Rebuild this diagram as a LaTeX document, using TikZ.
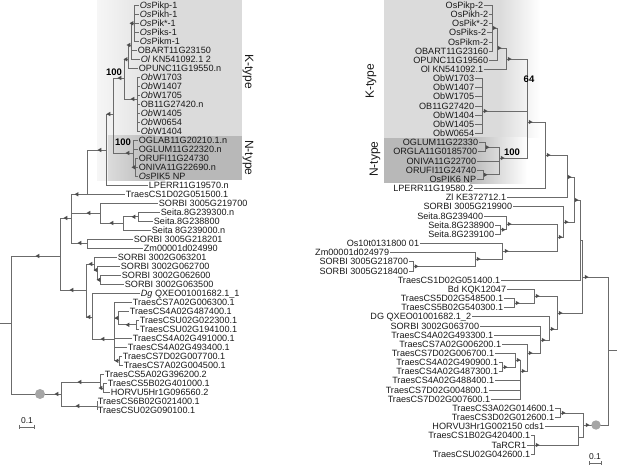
\documentclass[tikz,border=0pt]{standalone}
\usepackage{fontspec}
\setmainfont{Liberation Sans}
\usetikzlibrary{shapes.geometric}
\definecolor{boxK}{gray}{0.86}
\definecolor{boxN}{gray}{0.72}
\definecolor{brc}{gray}{0.42}
\definecolor{txt}{gray}{0.1}
\definecolor{trc}{gray}{0.3}
\newcommand\lblf{\fontsize{9.1}{10}\selectfont}
\begin{document}
\begin{tikzpicture}[x=1pt,y=-1pt,
  br/.style={draw=brc, line width=0.8pt},
  lf/.style={anchor=west, inner sep=0.7pt, text height=6.4pt, text depth=0.2pt, font=\lblf, text=txt},
  rf/.style={anchor=east, inner sep=0.7pt, text height=6.4pt, text depth=0.2pt, font=\lblf, text=txt},
  ltri/.style={regular polygon, regular polygon sides=3, shape border rotate=90, fill=trc, inner sep=0pt, minimum size=5pt},
  rtri/.style={regular polygon, regular polygon sides=3, shape border rotate=270, fill=trc, inner sep=0pt, minimum size=5pt},
  boot/.style={font=\fontsize{9.5}{10}\selectfont\bfseries, text=black, inner sep=0pt},
  ttl/.style={font=\fontsize{12}{14}\selectfont, text=txt, inner sep=0pt}
]
\useasboundingbox (0,0) rectangle (617,465);
% ---------- background boxes ----------
\shade[left color=boxK!25, right color=boxK] (97,0) rectangle (165,180);
\fill[boxK] (165,0) rectangle (242,180);
\shade[left color=boxK, right color=boxN] (108,136) rectangle (155,180);
\fill[boxN] (155,136) rectangle (242,180);
\fill[boxK] (384,0) rectangle (500,138);
\shade[left color=boxK, right color=white] (500,0) rectangle (540,138);
\fill[boxN] (384,138) rectangle (470,183);
\shade[left color=boxN, right color=white] (470,138) rectangle (527,183);
\node[ttl, rotate=-90] (kl) at (248,72) {K-type};
\node[ttl, rotate=-90] (nl) at (248,158) {N-type};
\node[ttl, rotate=90] (kr) at (371,81) {K-type};
\node[ttl, rotate=90] (nr) at (375,159) {N-type};
% ---------- left leaves ----------
\node[lf] (a0) at (139,5.3) {\textit{Os}Pikp-1};
\node[lf] (a1) at (139,14.3) {\textit{Os}Pikh-1};
\node[lf] (a2) at (139,23.3) {\textit{Os}Pik*-1};
\node[lf] (a3) at (139,32.3) {\textit{Os}Piks-1};
\node[lf] (a4) at (139,41.3) {\textit{Os}Pikm-1};
\node[lf] (a5) at (137,50.3) {OBART11G23150};
\node[lf] (a6) at (140,59.3) {\textit{Ol} KN541092.1 2};
\node[lf] (a7) at (138,68.3) {OPUNC11G19550.n};
\node[lf] (a8) at (140,77.3) {\textit{Ob}W1703};
\node[lf] (a9) at (140,86.3) {\textit{Ob}W1407};
\node[lf] (a10) at (140,95.3) {\textit{Ob}W1705};
\node[lf] (a11) at (140,104.3) {OB11G27420.n};
\node[lf] (a12) at (140,113.3) {\textit{Ob}W1405};
\node[lf] (a13) at (140,122.3) {\textit{Ob}W0654};
\node[lf] (a14) at (140,131.3) {\textit{Ob}W1404};
\node[lf] (a15) at (138,140.3) {OGLAB11G20210.1.n};
\node[lf] (a16) at (138,149.3) {OGLUM11G22320.n};
\node[lf] (a17) at (138,158.3) {ORUFI11G24730};
\node[lf] (a18) at (138,167.3) {ONIVA11G22690.n};
\node[lf] (a19) at (138,176.3) {\textit{Os}PIK5 NP};
\node[lf] (a20) at (148,185.3) {LPERR11G19570.n};
\node[lf] (a21) at (125,194.3) {TraesCS1D02G051500.1};
\node[lf] (a22) at (158,203.3) {SORBI 3005G219700};
\node[lf] (a23) at (160,212.3) {Seita.8G239300.n};
\node[lf] (a24) at (153,221.3) {Seita.8G238800};
\node[lf] (a25) at (151,230.3) {Seita 8G239000.n};
\node[lf] (a26) at (133,239.3) {SORBI 3005G218201};
\node[lf] (a27) at (143,248.3) {Zm00001d024990};
\node[lf] (a28) at (117,257.3) {SORBI 3002G063201};
\node[lf] (a29) at (120,266.3) {SORBI 3002G062700};
\node[lf] (a30) at (121,275.3) {SORBI 3002G062600};
\node[lf] (a31) at (124,284.3) {SORBI 3002G063500};
\node[lf] (a32) at (140,293.3) {\textit{Dg} QXEO01001682.1\_1};
\node[lf] (a33) at (132,302.3) {TraesCS7A02G006300.1};
\node[lf] (a34) at (129,311.3) {TraesCS4A02G487400.1};
\node[lf] (a35) at (139,320.3) {TraesCSU02G022300.1};
\node[lf] (a36) at (139,329.3) {TraesCSU02G194100.1};
\node[lf] (a37) at (132,338.3) {TraesCS4A02G491000.1};
\node[lf] (a38) at (127,347.3) {TraesCS4A02G493400.1};
\node[lf] (a39) at (122,356.3) {TraesCS7D02G007700.1};
\node[lf] (a40) at (123,365.3) {TraesCS7A02G004500.1};
\node[lf] (a41) at (104,374.3) {TraesCS5A02G396200.2};
\node[lf] (a42) at (107,383.3) {TraesCS5B02G401000.1};
\node[lf] (a43) at (110,392.3) {HORVU5Hr1G096560.2};
\node[lf] (a44) at (97,401.3) {TraesCS6B02G021400.1};
\node[lf] (a45) at (97,410.3) {TraesCSU02G090100.1};
% ---------- left internal nodes ----------
\coordinate (lRs) at (0,323);
\coordinate (lR) at (11,323);
\coordinate (lA) at (60,256);
\coordinate (lLB) at (61,394);
\coordinate (lL1) at (100,382);
\coordinate (lL1b) at (103,388);
\coordinate (lL2) at (97,406);
\coordinate (lB) at (71,218);
\coordinate (lD) at (86,290);
\coordinate (lC) at (87,194.3);
\coordinate (lF) at (106,150);
\coordinate (lG) at (113,114);
\coordinate (lK) at (124,78);
\coordinate (lK1) at (128,59.3);
\coordinate (lK1a) at (131,45);
\coordinate (lPik) at (134,23.3);
\coordinate (lK2) at (137,99);
\coordinate (lN) at (133,153);
\coordinate (lN2) at (135,167.3);
\coordinate (lS3) at (100,213);
\coordinate (lS2) at (123,223);
\coordinate (lS1) at (138,216.8);
\coordinate (lE) at (87,243);
\coordinate (lD1) at (94,264);
\coordinate (lD1a) at (97,270);
\coordinate (lD1b) at (100,279.8);
\coordinate (lD2) at (92,317);
\coordinate (lD3) at (114,339);
\coordinate (lD3b) at (118,318);
\coordinate (lD3a) at (136,324.8);
\coordinate (lD3c) at (119,360.8);
\draw[br] (lRs) -- (lR);
\foreach \p/\c in {lR/lA,lR/lLB,lA/lB,lA/lD,lLB/lL1,lLB/lL2,lL1/a41,lL1/lL1b,lL1b/a42,lL1b/a43,
  lL2/a44,lL2/a45,lB/lC,lB/lS3,lB/lE,lC/lF,lC/a21,lF/lG,lF/a20,lG/lK,lG/lN,lK/lK1,lK/lK2,
  lK1/lK1a,lK1/a7,lK1a/lPik,lK1a/a5,lK1a/a6,lPik/a0,lPik/a1,lPik/a2,lPik/a3,lPik/a4,
  lK2/a8,lK2/a9,lK2/a10,lK2/a11,lK2/a12,lK2/a13,lK2/a14,lN/a15,lN/a16,lN/lN2,lN2/a17,lN2/a18,lN2/a19,
  lS3/a22,lS3/lS2,lS2/lS1,lS2/a25,lS1/a23,lS1/a24,lE/a26,lE/a27,lD/lD1,lD/lD2,lD1/a28,lD1/lD1a,
  lD1a/a29,lD1a/lD1b,lD1b/a30,lD1b/a31,lD2/a32,lD2/lD3,lD3/a33,lD3/lD3b,lD3/a37,lD3/a38,lD3/lD3c,
  lD3b/a34,lD3b/lD3a,lD3a/a35,lD3a/a36,lD3c/a39,lD3c/a40}
  \draw[br] (\p) |- (\c);
\foreach \x/\y [count=\i] in {38/256,57/394,80/382,101/388,78/406,66/218,72/290,77/194.3,89/213,80/243,
  100/150,109/114,120/78,128/153,126/59.3,129/45,132/23.3,133/99,134/167.3,112/223,134/216.8,
  91/264,96/270,99/279.8,89/317,103/339,117/318,128/324.8,117/360.8}
  \node[ltri] (lt\i) at (\x,\y) {};
\fill[gray!70] (40,394) circle (5);
\node[boot] (lb1) at (114,72) {100};
\node[boot] (lb2) at (123,142) {100};
\draw[br, line width=0.6pt] (19,424.5) -- (19,428.5) (19,427) -- (34,427) (34,424.5) -- (34,428.5);
\node[font=\fontsize{8.5}{9}\selectfont, text=txt, inner sep=0pt] (ls) at (27,420.5) {0.1};
% ---------- right leaves ----------
\node[rf] (b0) at (484,5.3) {OsPikp-2};
\node[rf] (b1) at (489,14.46) {OsPikh-2};
\node[rf] (b2) at (489,23.62) {OsPik*-2};
\node[rf] (b3) at (487,32.78) {OsPiks-2};
\node[rf] (b4) at (489,41.94) {OsPikm-2};
\node[rf] (b5) at (489,51.1) {OBART11G23160};
\node[rf] (b6) at (489,60.26) {OPUNC11G19560};
\node[rf] (b7) at (484,69.42) {Ol KN541092.1};
\node[rf] (b8) at (475,78.58) {ObW1703};
\node[rf] (b9) at (475,87.74) {ObW1407};
\node[rf] (b10) at (475,96.9) {ObW1705};
\node[rf] (b11) at (475,106.06) {OB11G27420};
\node[rf] (b12) at (475,115.22) {ObW1404};
\node[rf] (b13) at (475,124.38) {ObW1405};
\node[rf] (b14) at (475,133.54) {ObW0654};
\node[rf] (b15) at (479,142.7) {OGLUM11G22330};
\node[rf] (b16) at (478,151.86) {ORGLA11G0185700};
\node[rf] (b17) at (477,161.02) {ONIVA11G22700};
\node[rf] (b18) at (477,170.18) {ORUFI11G24740};
\node[rf] (b19) at (477,179.34) {OsPIK6 NP};
\node[rf] (b20) at (474,188.5) {LPERR11G19580.2};
\node[rf] (b21) at (507,197.66) {Zl KE372712.1};
\node[rf] (b22) at (513,206.82) {SORBI 3005G219900};
\node[rf] (b23) at (484,215.98) {Seita.8G239400};
\node[rf] (b24) at (495,225.14) {Seita.8G238900};
\node[rf] (b25) at (495,234.3) {Seita.8G239100};
\node[rf] (b26) at (420,243.46) {Os10t0131800 01};
\node[rf] (b27) at (390,252.62) {Zm00001d024979};
\node[rf] (b28) at (409,261.78) {SORBI 3005G218700};
\node[rf] (b29) at (409,270.94) {SORBI 3005G218400};
\node[rf] (b30) at (501,280.1) {TraesCS1D02G051400.1};
\node[rf] (b31) at (507,289.26) {Bd KQK12047};
\node[rf] (b32) at (504,298.42) {TraesCS5D02G548500.1};
\node[rf] (b33) at (504,307.58) {TraesCS5B02G540300.1};
\node[rf] (b34) at (472,316.74) {DG QXEO01001682.1\_2};
\node[rf] (b35) at (480,325.9) {SORBI 3002G063700};
\node[rf] (b36) at (494,335.06) {TraesCS4A02G493300.1};
\node[rf] (b37) at (502,344.22) {TraesCS7A02G006200.1};
\node[rf] (b38) at (495,353.38) {TraesCS7D02G006700.1};
\node[rf] (b39) at (499,362.54) {TraesCS4A02G490900.1};
\node[rf] (b40) at (499,371.7) {TraesCS4A02G487300.1};
\node[rf] (b41) at (495,380.86) {TraesCS4A02G488400.1};
\node[rf] (b42) at (489,390.02) {TraesCS7D02G004800.1};
\node[rf] (b43) at (491,399.18) {TraesCS7D02G007600.1};
\node[rf] (b44) at (555,408.34) {TraesCS3A02G014600.1};
\node[rf] (b45) at (555,417.5) {TraesCS3D02G012600.1};
\node[rf] (b46) at (545,426.66) {HORVU3Hr1G002150 cds1};
\node[rf] (b47) at (531,435.82) {TraesCS1B02G420400.1};
\node[rf] (b48) at (527,444.98) {TaRCR1};
\node[rf] (b49) at (531,454.14) {TraesCSU02G042600.1};
% ---------- right internal nodes ----------
\coordinate (rRs) at (617,350);
\coordinate (rRoot) at (608,350);
\coordinate (rR2) at (582,277);
\coordinate (rP5) at (580,240);
\coordinate (rP4) at (574,200);
\coordinate (rP2) at (567,177);
\coordinate (rP1) at (545,155);
\coordinate (rKN) at (527,122);
\coordinate (rKO) at (506,59);
\coordinate (rP6) at (497,48);
\coordinate (rPik) at (492,28);
\coordinate (rObW) at (482,111);
\coordinate (rN) at (499,158);
\coordinate (rN1) at (485,147.3);
\coordinate (rN2) at (483,174.8);
\coordinate (rP3) at (563,222);
\coordinate (rQ1) at (557,237);
\coordinate (rSe) at (506,224);
\coordinate (rSe1) at (500,229.7);
\coordinate (rZ3) at (502,251);
\coordinate (rZ2) at (475,259);
\coordinate (rZ1) at (413,266.4);
\coordinate (rB3) at (557,313);
\coordinate (rB2) at (534,296);
\coordinate (rB1) at (514,303);
\coordinate (rT6) at (549,329);
\coordinate (rT5) at (540,340);
\coordinate (rT4) at (527,353);
\coordinate (rT3) at (520,371);
\coordinate (rT2) at (515,360);
\coordinate (rT1) at (502,367.1);
\coordinate (rLow) at (583,425);
\coordinate (rH1) at (560,412.9);
\coordinate (rH2) at (578,437);
\coordinate (rH3) at (534,445);
\draw[br] (rRs) -- (rRoot);
\foreach \p/\c in {rRoot/rR2,rRoot/rLow,rR2/rP5,rR2/rB3,rP5/rP4,rP5/b30,rP4/rP2,rP4/rP3,rP2/rP1,rP2/b21,
  rP1/rKN,rP1/b20,rKN/rKO,rKN/rObW,rKN/rN,rKO/rP6,rKO/b7,rP6/rPik,rP6/b6,
  rPik/b0,rPik/b1,rPik/b2,rPik/b3,rPik/b4,rPik/b5,rObW/b8,rObW/b9,rObW/b10,rObW/b11,rObW/b12,rObW/b13,rObW/b14,
  rN/rN1,rN/b17,rN/rN2,rN1/b15,rN1/b16,rN2/b18,rN2/b19,rP3/b22,rP3/rQ1,rQ1/rSe,rQ1/rZ3,rSe/b23,rSe/rSe1,
  rSe1/b24,rSe1/b25,rZ3/b26,rZ3/rZ2,rZ2/b27,rZ2/rZ1,rZ1/b28,rZ1/b29,rB3/rB2,rB3/rT6,rB2/b31,rB2/rB1,
  rB1/b32,rB1/b33,rT6/b34,rT6/rT5,rT5/b35,rT5/b36,rT5/rT4,rT4/b37,rT4/rT3,rT3/rT2,rT3/b41,rT3/b42,rT3/b43,
  rT2/b38,rT2/rT1,rT1/b39,rT1/b40,rLow/rH1,rLow/rH2,rH1/b44,rH1/b45,rH2/b46,rH2/rH3,rH3/b47,rH3/b48,rH3/b49}
  \draw[br] (\p) |- (\c);
\foreach \x/\y [count=\i] in {586/277,587/425,576/200,569/177,566/222,548/155,530/122,509/59,499/48,494/28,
  485/111,502/158,487/147.3,485/174.8,560/237,509/224,503/229.7,506/251,478/259,416/266.4,560/313,537/296,
  517/303,552/329,543/340,530/353,523/371,518/360,505/367.1,563/412.9,537/445}
  \node[rtri] (rt\i) at (\x,\y) {};
\fill[gray!70] (596,425) circle (4.7);
\node[boot] (rb1) at (529,79) {64};
\node[boot] (rb2) at (512,152) {100};
\draw[br, line width=0.6pt] (589,461) -- (589,465) (589,463) -- (601,463) (601,461) -- (601,465);
\node[font=\fontsize{8.5}{9}\selectfont, text=txt, inner sep=0pt] (rs) at (595,456.5) {0.1};
\end{tikzpicture}
\end{document}
